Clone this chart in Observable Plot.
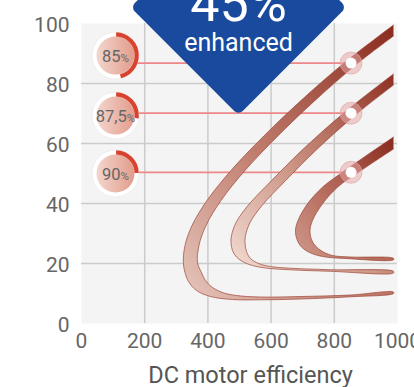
<!DOCTYPE html>
<html>
<head>
<meta charset="utf-8">
<script src="https://cdn.jsdelivr.net/npm/d3@7"></script>
<script src="https://cdn.jsdelivr.net/npm/@observablehq/plot@0.6"></script>
<style>
  html, body { margin: 0; padding: 0; background: #ffffff; }
  #chart svg { display: block; }
</style>
</head>
<body>
<div id="chart"></div>
<script>
// ---- data ----
const xTicks = [0, 200, 400, 600, 800, 1000];
const yTicks = [0, 20, 40, 60, 80, 100];
const xGrid = [200, 400, 600, 800];
const yGrid = [20, 40, 60, 80];
const xLabel = "DC motor efficiency";

// efficiency bands: outer edge (top-right end -> vertex -> tail), then inner edge (tail -> top-right end), [x, y]
const band85Outer = [[987.3,99.5],[829.1,86.67],[694.6,74.33],[578.5,62.67],[473.1,51],[397.2,41],[349.7,32.67],[327.5,26],[322.2,20.33],[327.5,17],[338.6,14],[363.9,11],[408.2,9],[477.8,8],[566.5,7.9],[693,8.17],[851.3,8.9],[987.3,10]];
const band85Inner = [[987.3,10.5],[851.3,9.5],[693,9],[566.5,8.83],[490.5,9.33],[446.2,10.33],[414.6,12],[392.4,14.33],[379.7,17],[367.1,20.33],[371.8,26],[394,32.67],[441.5,41],[517.4,51],[622.8,62.67],[738.9,74.33],[873.4,86.67],[987.3,95.83]];
const band875Outer = [[987.3,83.17],[829.1,70.1],[696.8,57.67],[601.9,47.67],[526.9,39.33],[489.2,33.67],[474.7,29.33],[473.1,27],[477.8,24.33],[490.5,22.17],[509.5,20.67],[541.1,19.33],[582.3,18.5],[661.4,17.9],[787.9,17.4],[987.3,16.83]];
const band875Inner = [[987.3,17.4],[787.9,17.93],[661.4,18.43],[598.1,19],[560.1,20],[534.8,21.67],[522.2,24],[517.4,27],[519,29.33],[533.5,33.67],[571.2,39.33],[646.2,47.67],[741.1,57.67],[873.4,70.1],[987.3,79.5]];
const band90Outer = [[987.3,62.17],[826,50.43],[762.7,45.43],[715.2,39.9],[685.1,34.33],[677.2,31],[682,28],[696.2,25.5],[721.5,23.67],[762.7,22.33],[835.4,21.67],[987.3,21.23]];
const band90Inner = [[987.3,21.73],[851.3,22.17],[794.3,22.67],[762.7,24],[740.5,25.83],[727.8,28],[723.1,31],[731,34.33],[762.7,39.9],[810.1,45.43],[876.6,50.43],[987.3,58.17]];

const badgeLabels = ["85", "87,5", "90"];
const badgeX = [107.6, 107.6, 107.6];
const badgeY = [89.3, 69.3, 50];
const badgeArc = [0.46, 0.27, 0.24];
const guideY = [86.8, 70.1, 50.4];
const markerX = [853, 853, 853];

const bannerX = [496.8];
const bannerY = [105.4];
const bannerValue = ["45%"];
const bannerValueY = [100.8];
const bannerWord = ["enhanced"];
const bannerWordY = [90.8];

// ---- build ----
const bands = [
  {id: "band85", pts: band85Outer.concat(band85Inner)},
  {id: "band875", pts: band875Outer.concat(band875Inner)},
  {id: "band90", pts: band90Outer.concat(band90Inner)}
];
const badges = badgeLabels.map((t, i) => ({t, x: badgeX[i], y: badgeY[i], arc: badgeArc[i]}));
const guides = guideY.map((y, i) => ({y, x1: badgeX[i], x2: markerX[i]}));
const banner = bannerX.map((x, i) => ({x, y: bannerY[i], v: bannerValue[i], vy: bannerValueY[i], w: bannerWord[i], wy: bannerWordY[i]}));

const arcR = 21.2;
const C = 2 * Math.PI * arcR;

const marks = [
  Plot.frame({fill: "#f4f4f4", stroke: "none"}),
  Plot.gridX(xGrid, {stroke: "#cbcbcb", strokeOpacity: 1, strokeWidth: 1.5}),
  Plot.gridY(yGrid, {stroke: "#cbcbcb", strokeOpacity: 1, strokeWidth: 1.5}),
  Plot.axisX(xTicks, {tickSize: 0, tickPadding: 10, fontSize: 21, fill: "#666", label: null, tickFormat: d => String(d)}),
  Plot.axisY(yTicks, {tickSize: 0, tickPadding: 12, fontSize: 21, fill: "#666", label: null, dy: 1.5, tickFormat: d => String(d)}),
  Plot.text([xLabel], {text: d => d, frameAnchor: "bottom", dy: 59.5, dx: 11, lineAnchor: "bottom", fontSize: 23.5, fill: "#555"}),
  Plot.ruleY(guides, {y: "y", x1: "x1", x2: "x2", stroke: "#ee8787", strokeWidth: 1.8}),
  ...bands.map(b => Plot.line(b.pts, {x: d => d[0], y: d => d[1], curve: "catmull-rom", fill: `url(#${b.id})`, stroke: "#9c4434", strokeWidth: 0.7})),
  Plot.dot(guides, {x: "x2", y: "y", r: 11, fill: "#e7aaaa", fillOpacity: 0.55, stroke: "#e0a0a0", strokeOpacity: 0.6, strokeWidth: 1}),
  Plot.dot(guides, {x: "x2", y: "y", r: 5.5, fill: "white"}),
  Plot.dot(badges, {x: "x", y: "y", r: 23.5, fill: "white", stroke: "#e6e6e6", strokeWidth: 0.6}),
  Plot.dot(badges, {x: "x", y: "y", r: 19, fill: "url(#badgeFill)"}),
  ...badges.map(b => Plot.dot([b], {x: "x", y: "y", r: arcR, fill: "none", stroke: "#d7432e", strokeWidth: 4.2,
      strokeDasharray: `${b.arc * C} ${C - b.arc * C}`, strokeDashoffset: C / 4})),
  Plot.text(badges, {x: "x", y: "y", text: "t", fontSize: 16.5, fill: "#666", dy: 1.5, letterSpacing: "-0.3px"}),
  Plot.dot(banner, {x: "x", y: "y", symbol: "diamond2", r: 89.6, fill: "#1a4a9d", stroke: "#1a4a9d", strokeWidth: 12, strokeLinejoin: "round"}),
  Plot.text(banner, {x: "x", y: "vy", text: "v", fontSize: 52, fill: "white", lineAnchor: "bottom"}),
  Plot.text(banner, {x: "x", y: "wy", text: "w", fontSize: 25, fill: "white", lineAnchor: "bottom"})
];

const svg = Plot.plot({
  width: 414,
  height: 387,
  marginTop: 23,
  marginBottom: 64,
  marginLeft: 81,
  marginRight: 17,
  x: {domain: [0, 1000]},
  y: {domain: [0, 100]},
  style: {fontFamily: "Roboto, 'Noto Sans', sans-serif", background: "white", overflow: "hidden"},
  marks
});

// gradients
const defs = d3.select(svg).insert("defs", ":first-child");
const grads = [
  {id: "band85", stops: [[0, "#e6c6bc"], [0.45, "#bf7b6c"], [1, "#8a2c1f"]]},
  {id: "band875", stops: [[0, "#f3ded6"], [0.45, "#cc9585"], [1, "#8f3123"]]},
  {id: "band90", stops: [[0, "#cf9a8c"], [0.5, "#b26556"], [1, "#882b1e"]]}
];
grads.forEach(g => {
  const lg = defs.append("linearGradient").attr("id", g.id)
    .attr("x1", 0).attr("y1", 1).attr("x2", 1).attr("y2", 0);
  g.stops.forEach(([o, c]) => lg.append("stop").attr("offset", o).attr("stop-color", c));
});
const bg = defs.append("linearGradient").attr("id", "badgeFill").attr("x1", 0).attr("y1", 0).attr("x2", 1).attr("y2", 0);
bg.append("stop").attr("offset", 0).attr("stop-color", "#f3d6cd");
bg.append("stop").attr("offset", 1).attr("stop-color", "#e29c8b");

// smaller percent sign on badge labels
d3.select(svg).selectAll("text")
  .filter(function () { return badgeLabels.includes(this.textContent) && !this.querySelector("tspan"); })
  .each(function () { d3.select(this).append("tspan").attr("font-size", 11.5).text("%"); });

document.getElementById("chart").appendChild(svg);
</script>
</body>
</html>
